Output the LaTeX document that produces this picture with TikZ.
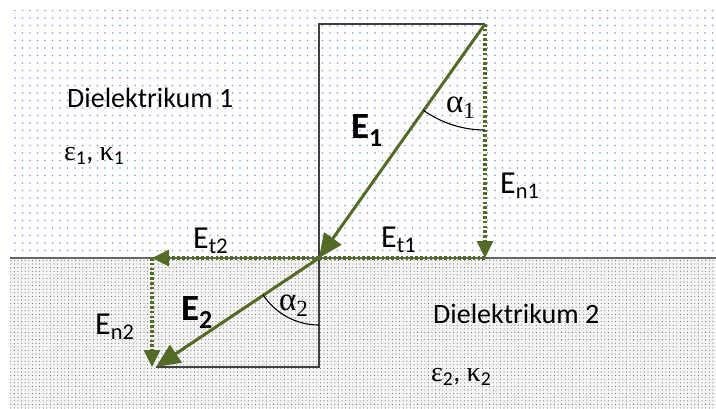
\documentclass[tikz,border=0pt]{standalone}
\usepackage{fontspec}
\setmainfont{Carlito}
\newfontfamily\grk{Liberation Serif}
\usetikzlibrary{arrows.meta, patterns.meta}

\definecolor{vecgreen}{RGB}{84,107,40}
\definecolor{dotblue}{RGB}{120,158,215}
\definecolor{dotgray}{RGB}{105,105,98}

\tikzset{
  vec/.style={vecgreen, line width=3pt, -{Triangle[length=24pt,width=21pt]}},
  comp/.style={vecgreen, line width=3.2pt, dash pattern=on 2.6pt off 2.2pt},
  comptip/.style={comp, -{Triangle[length=17pt,width=16pt]}},
  frame/.style={black!75, line width=1.2pt},
  anglearc/.style={black, line width=1.1pt},
  lbl/.style={anchor=base west, inner sep=0pt, font=\fontsize{28}{30}\selectfont},
  complbl/.style={lbl, font=\fontsize{32}{34}\selectfont},
  biglbl/.style={lbl, font=\fontsize{37}{40}\selectfont\bfseries},
  anglbl/.style={lbl, font=\fontsize{33}{35}\selectfont\grk},
}

\begin{document}
\begin{tikzpicture}[x=1pt, y=-1pt]
  \useasboundingbox (0,0) rectangle (716,408);
  % media
  \fill[white] (0,0) rectangle (716,408);
  \fill[pattern={Dots[distance=7.5pt, radius=0.8pt]}, pattern color=dotblue] (10,10) rectangle (716,258);
  \fill[black!4] (10,258) rectangle (716,408);
  \fill[pattern={Dots[distance=3.6pt, radius=0.55pt]}, pattern color=dotgray] (10,258) rectangle (716,408);
  \coordinate (IL) at (10,258);
  \coordinate (IR) at (716,258);
  \draw[black!60, line width=2pt] (IL) -- (IR);

  % points
  \coordinate (T) at (485,24);
  \coordinate (L) at (319,24);
  \coordinate (O) at (319,258);
  \coordinate (F) at (485,258);
  \coordinate (G) at (152,258);
  \coordinate (K) at (319,367);
  \coordinate (H) at (156,367);

  \draw[frame] (T) -- (L) -- (K) -- (H);

  % components
  \draw[comptip] (T) -- (F);
  \draw[comp] (F) -- (O);
  \draw[comptip] (O) -- (G);
  \draw[comptip] (G) -- (G |- H);

  % field vectors
  \draw[vec] (T) -- (O);
  \draw[vec] (O) -- (H);

  % angles
  \draw[anglearc] (T) ++(90:106) arc[start angle=90, end angle=125.5, radius=106];
  \draw[anglearc] (O) ++(90:67) arc[start angle=90, end angle=146.5, radius=67];

  % labels
  \node[lbl] (d1) at (67,107) {Dielektrikum 1};
  \node[lbl] (m1) at (64,160) {{\grk ε}\textsubscript{1}, {\grk κ}\textsubscript{1}};
  \node[lbl] (d2) at (433,323) {Dielektrikum 2};
  \node[lbl] (m2) at (431,381) {{\grk ε}\textsubscript{2}, {\grk κ}\textsubscript{2}};
  \node[biglbl] (e1) at (351,138) {E\textsubscript{1}};
  \node[biglbl] (e2) at (181,320) {E\textsubscript{2}};
  \node[complbl] (en1) at (500,193) {E\textsubscript{n1}};
  \node[complbl] (et1) at (381,247) {E\textsubscript{t1}};
  \node[complbl] (et2) at (193,248) {E\textsubscript{t2}};
  \node[complbl] (en2) at (95,334) {E\textsubscript{n2}};
  \node[anglbl] (a1) at (446,112) {α\textsubscript{1}};
  \node[anglbl] (a2) at (279,310) {α\textsubscript{2}};
\end{tikzpicture}
\end{document}
